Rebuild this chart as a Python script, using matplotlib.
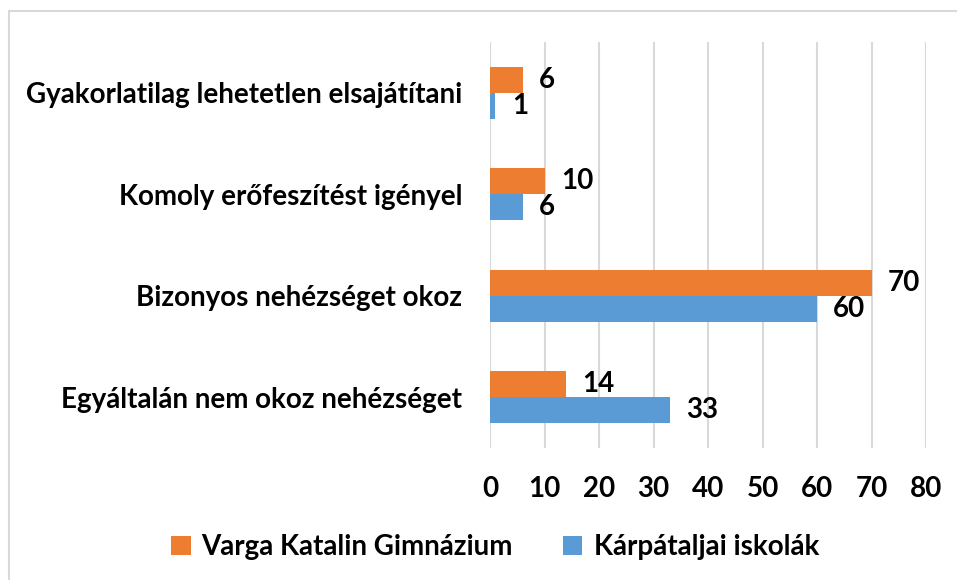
import matplotlib
matplotlib.use("Agg")
import matplotlib.pyplot as plt
from matplotlib.patches import Rectangle

categories = ["Egyáltalán nem okoz nehézséget", "Bizonyos nehézséget okoz",
              "Komoly erőfeszítést igényel", "Gyakorlatilag lehetetlen elsajátítani"]
series_names = ["Varga Katalin Gimnázium", "Kárpátaljai iskolák"]
varga = [14, 70, 10, 6]
karpat = [33, 60, 6, 1]
xticks = [0, 10, 20, 30, 40, 50, 60, 70, 80]

orange = "#ED7D31"
blue = "#5B9BD5"
FONT = "Lato"
FS = 20

W, H = 957, 580
fig = plt.figure(figsize=(W / 100, H / 100), dpi=100)
fig.patches.append(Rectangle((9 / W, -0.1), 1.2, 1.1 - 11 / H, transform=fig.transFigure,
                             fill=False, edgecolor="#D9D9D9", linewidth=1.5))

ax = fig.add_axes([490 / W, 1 - 448 / H, 436 / W, 406 / H])
bh = 0.256
ys = list(range(len(categories)))
ax.barh([y + bh / 2 for y in ys], varga, height=bh, color=orange, label=series_names[0], zorder=3)
ax.barh([y - bh / 2 for y in ys], karpat, height=bh, color=blue, label=series_names[1], zorder=3)

off = 3.0
for y, v in zip(ys, varga):
    ax.text(v + off, y + bh / 2, str(v), va="center", ha="left", fontsize=FS,
            fontweight="bold", family=FONT, color="black")
for y, v in zip(ys, karpat):
    ax.text(v + off, y - bh / 2, str(v), va="center", ha="left", fontsize=FS,
            fontweight="bold", family=FONT, color="black")

ax.set_xlim(0, 80)
ax.set_ylim(-0.5, len(categories) - 0.5)
ax.set_xticks(xticks)
ax.set_xticklabels([str(t) for t in xticks], fontsize=FS, fontweight="bold", family=FONT)
ax.set_yticks(ys)
ax.set_yticklabels(categories, fontsize=FS, fontweight="bold", family=FONT)
ax.tick_params(axis="both", length=0)
ax.tick_params(axis="x", pad=20)
ax.tick_params(axis="y", pad=20)
ax.grid(axis="x", color="#D9D9D9", linewidth=1.5, zorder=0)
for s in ax.spines.values():
    s.set_visible(False)

handles, labels = ax.get_legend_handles_labels()
leg = fig.legend(handles, labels, loc="center", bbox_to_anchor=(495 / W, 1 - 547 / H), ncol=2,
                 frameon=False, prop={"family": FONT, "weight": "bold", "size": FS},
                 handlelength=0.7, handleheight=0.7, handletextpad=0.4, columnspacing=1.8)

fig.savefig("out.png", dpi=100)
